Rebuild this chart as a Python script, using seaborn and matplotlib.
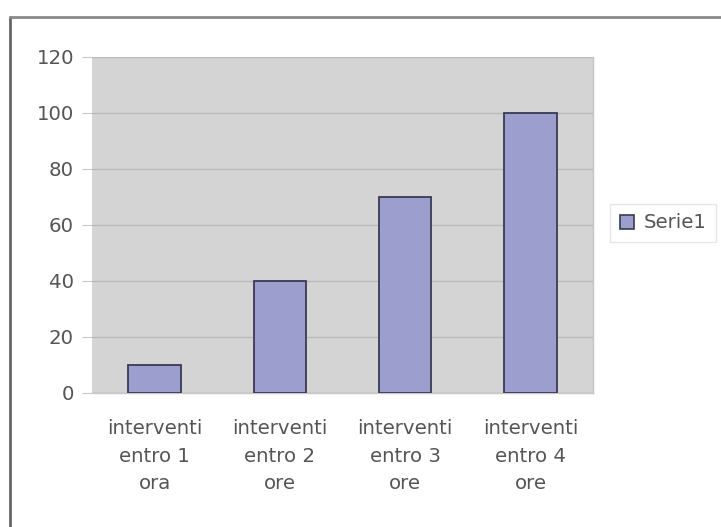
import matplotlib
matplotlib.use("Agg")
import matplotlib.pyplot as plt
import seaborn as sns
import pandas as pd
from matplotlib.lines import Line2D
from matplotlib.patches import Patch

categories = ["interventi\nentro 1\nora", "interventi\nentro 2\nore",
              "interventi\nentro 3\nore", "interventi\nentro 4\nore"]
values = [10, 40, 70, 100]
series_name = "Serie1"
yticks = [0, 20, 40, 60, 80, 100, 120]

df = pd.DataFrame({"cat": categories, "val": values})

sns.set_style("white")
plt.rcParams["font.family"] = ["DejaVu Sans"]

BAR = "#9c9ece"
EDGE = "#3a3a55"
TXT = "#555555"
FS = 14.2

W, H = 721, 527
fig = plt.figure(figsize=(W / 100, H / 100), dpi=100)
fig.patch.set_facecolor("white")

ax = fig.add_axes([92 / W, 1 - 393 / H, (593 - 92) / W, (393 - 57) / H])
ax.set_facecolor("#d4d4d4")

sns.barplot(data=df, x="cat", y="val", ax=ax, color=BAR, width=0.42,
            edgecolor=EDGE, linewidth=1.3, saturation=1, zorder=3)

ax.set_ylim(0, 120)
ax.set_yticks(yticks)
ax.set_xlim(-0.5, 3.5)
ax.yaxis.grid(True, color="#bababa", linewidth=1.0, zorder=0)
ax.set_axisbelow(True)
ax.set_xlabel("")
ax.set_ylabel("")

for s in ax.spines.values():
    s.set_visible(False)
ax.spines["bottom"].set_visible(True)
ax.spines["bottom"].set_color("#c8c8c8")
ax.spines["bottom"].set_linewidth(1.0)
ax.spines["right"].set_visible(True)
ax.spines["right"].set_color("#c4c4c4")
ax.spines["right"].set_linewidth(1.0)

ax.tick_params(axis="y", length=7, width=0.8, color="#c8c8c8",
               labelsize=FS, labelcolor=TXT, pad=6, left=True)
ax.tick_params(axis="x", length=0, labelsize=FS, labelcolor=TXT, pad=19)
for lbl in ax.get_xticklabels():
    lbl.set_linespacing(1.55)

leg = fig.legend(handles=[Patch(facecolor=BAR, edgecolor=EDGE,
                                linewidth=1.2, label=series_name)],
                 loc="center left", bbox_to_anchor=(610 / W, 1 - 223 / H),
                 frameon=True, fontsize=FS, handlelength=0.7, handleheight=0.7,
                 handletextpad=0.5, borderpad=0.5, borderaxespad=0,
                 fancybox=False)
leg.get_frame().set_edgecolor("#e2e2e2")
leg.get_frame().set_linewidth(1.0)
for t in leg.get_texts():
    t.set_color(TXT)

# outer chart frame (left and top edges)
fig.add_artist(Line2D([10 / W, 10 / W], [0, 1 - 17 / H], transform=fig.transFigure,
                      color="#666666", linewidth=2))
fig.add_artist(Line2D([10 / W, 1], [1 - 17 / H, 1 - 17 / H], transform=fig.transFigure,
                      color="#8a8a8a", linewidth=2))

fig.savefig("out.png", dpi=100, facecolor="white")
